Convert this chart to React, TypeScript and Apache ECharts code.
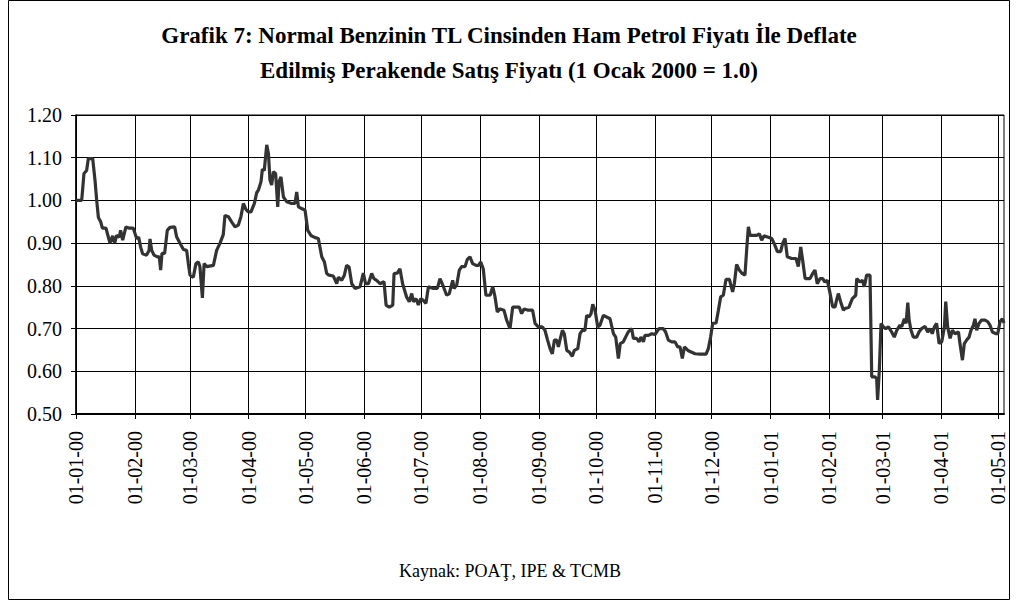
import React, { useEffect, useRef } from "react";
import * as echarts from "echarts";

// Days elapsed since 1 Jan 2000 for each reading
const dayOffsets: number[] = [
  0, 3.0, 4.2, 5.6, 6.5, 8.8, 10.0, 10.9, 11.8, 13.0, 13.9, 15.8, 17.0, 17.9, 19.3, 20.4, 21.4, 22.8, 23.5, 24.6,
  26.3, 28.1, 30.2, 32.0, 33.0, 34.1, 35.1, 37.2, 38.5, 39.0, 39.9, 41.1, 42.9, 43.9, 44.6, 45.3, 46.7, 48.1, 49.5, 52.0,
  53.0, 54.8, 56.6, 58.3, 59.2, 60.1, 61.8, 63.2, 64.5, 65.3, 66.6, 67.5, 68.9, 72.4, 74.1, 75.9, 77.6, 78.5, 80.3, 82.0,
  83.8, 85.5, 86.9, 88.2, 89.4, 90.8, 92.2, 94.0, 95.2, 96.1, 97.5, 98.2, 99.2, 100.5, 101.4, 102.2, 103.1, 104.0, 105.2, 106.3,
  107.0, 108.0, 109.3, 111.0, 113.6, 115.4, 116.3, 117.2, 118.9, 120.7, 122.1, 123.8, 126.0, 127.7, 129.5, 130.9, 132.1, 133.3, 135.6, 137.4,
  138.2, 140.0, 141.4, 142.6, 143.9, 145.3, 147.0, 149.7, 151.4, 152.6, 154.1, 155.8, 157.0, 158.4, 160.2, 162.3, 163.4, 165.1, 166.9, 167.6,
  169.3, 170.7, 172.1, 174.2, 175.6, 176.9, 177.8, 179.2, 180.4, 181.6, 183.0, 184.4, 185.7, 188.3, 190.4, 191.8, 193.6, 195.3, 196.7, 198.5,
  199.2, 200.6, 202.0, 203.2, 205.0, 206.2, 207.6, 209.0, 210.8, 212.2, 213.2, 214.6, 216.0, 218.2, 219.6, 220.8, 222.0, 223.4, 225.5, 226.9,
  228.7, 230.1, 231.9, 233.6, 234.8, 236.1, 238.4, 240.6, 241.9, 243.6, 245.7, 247.1, 248.5, 249.8, 251.0, 252.1, 253.3, 254.2, 255.0, 256.3,
  257.3, 258.6, 260.0, 261.5, 262.6, 264.4, 265.6, 266.8, 268.2, 269.1, 270.3, 271.4, 272.3, 273.5, 274.9, 276.1, 277.9, 279.6, 281.4, 283.2,
  284.4, 285.8, 286.8, 288.4, 289.6, 291.0, 292.8, 293.7, 295.4, 296.7, 297.7, 299.0, 299.8, 301.6, 303.4, 305.1, 307.2, 309.5, 310.7, 312.1,
  313.9, 315.6, 317.1, 318.3, 319.5, 320.6, 322.7, 326.2, 328.8, 332.0, 333.2, 334.4, 335.5, 337.3, 338.5, 339.7, 341.1, 342.5, 344.3, 346.0,
  346.9, 348.1, 349.5, 350.8, 352.5, 353.4, 354.3, 355.2, 357.3, 358.7, 360.1, 361.3, 362.5, 364.8, 366.6, 367.8, 369.6, 371.3, 372.4, 373.6,
  374.8, 377.1, 379.4, 380.6, 381.9, 382.9, 384.2, 386.8, 388.2, 389.4, 390.6, 392.1, 393.5, 394.5, 395.9, 397.0, 398.7, 400.0, 400.8, 401.7,
  402.9, 404.4, 405.2, 407.3, 409.1, 410.9, 411.4, 412.3, 413.1, 414.4, 415.4, 416.6, 418.4, 419.3, 421.0, 421.9, 422.4, 423.3, 424.2, 425.4,
  426.7, 428.1, 429.8, 431.2, 432.5, 434.2, 435.1, 436.5, 437.4, 438.3, 439.0, 440.0, 441.2, 443.0, 444.2, 445.6, 447.4, 448.8, 450.0, 451.2,
  452.3, 453.5, 454.8, 456.2, 457.6, 458.3, 459.3, 460.6, 461.8, 463.2, 465.0, 465.8, 467.1, 468.1, 469.3, 470.6, 471.6, 472.9, 473.7, 474.6,
  475.8, 477.2, 479.0, 480.4, 481.6, 482.9, 484.6, 485.7, 486.9, 488.1, 489.0,
];

// Deflated retail price of regular gasoline relative to crude price (1 Jan 2000 = 1.0)
const priceRatio: number[] = [
  1.0, 1.0, 1.063, 1.07, 1.098, 1.098, 1.048, 1.0, 0.96, 0.95, 0.935, 0.935, 0.915, 0.9, 0.917, 0.9, 0.918, 0.914, 0.93, 0.907,
  0.938, 0.935, 0.935, 0.91, 0.914, 0.89, 0.875, 0.872, 0.883, 0.91, 0.883, 0.872, 0.868, 0.868, 0.837, 0.876, 0.876, 0.93, 0.937, 0.938,
  0.915, 0.9, 0.885, 0.883, 0.852, 0.825, 0.82, 0.852, 0.856, 0.845, 0.772, 0.852, 0.845, 0.848, 0.883, 0.9, 0.92, 0.965, 0.962, 0.95,
  0.938, 0.942, 0.962, 0.993, 0.98, 0.973, 0.973, 0.993, 1.018, 1.024, 1.044, 1.073, 1.07, 1.13, 1.11, 1.048, 1.036, 1.067, 1.063, 0.985,
  1.044, 1.055, 1.008, 0.997, 0.993, 0.993, 1.02, 0.985, 0.981, 0.977, 0.93, 0.918, 0.913, 0.911, 0.868, 0.856, 0.829, 0.825, 0.823, 0.805,
  0.82, 0.813, 0.825, 0.848, 0.844, 0.805, 0.794, 0.798, 0.83, 0.805, 0.805, 0.829, 0.817, 0.813, 0.805, 0.81, 0.755, 0.75, 0.755, 0.829,
  0.83, 0.84, 0.805, 0.774, 0.763, 0.782, 0.763, 0.77, 0.755, 0.77, 0.766, 0.759, 0.798, 0.794, 0.794, 0.817, 0.798, 0.778, 0.782, 0.813,
  0.794, 0.802, 0.837, 0.845, 0.845, 0.862, 0.868, 0.852, 0.848, 0.848, 0.856, 0.84, 0.778, 0.778, 0.798, 0.774, 0.739, 0.746, 0.743, 0.72,
  0.7, 0.75, 0.75, 0.75, 0.735, 0.746, 0.743, 0.743, 0.712, 0.704, 0.704, 0.696, 0.673, 0.653, 0.641, 0.673, 0.673, 0.657, 0.673, 0.696,
  0.688, 0.649, 0.645, 0.635, 0.649, 0.653, 0.688, 0.696, 0.696, 0.731, 0.727, 0.735, 0.757, 0.743, 0.704, 0.708, 0.731, 0.727, 0.723, 0.688,
  0.68, 0.63, 0.665, 0.669, 0.68, 0.692, 0.7, 0.677, 0.677, 0.669, 0.68, 0.669, 0.684, 0.684, 0.688, 0.686, 0.7, 0.7, 0.692, 0.673,
  0.669, 0.669, 0.657, 0.657, 0.63, 0.657, 0.648, 0.641, 0.64, 0.64, 0.653, 0.68, 0.712, 0.713, 0.743, 0.774, 0.778, 0.815, 0.815, 0.786,
  0.805, 0.85, 0.837, 0.83, 0.825, 0.884, 0.938, 0.918, 0.918, 0.918, 0.922, 0.907, 0.917, 0.914, 0.911, 0.9, 0.88, 0.88, 0.9, 0.911,
  0.868, 0.864, 0.864, 0.845, 0.891, 0.86, 0.817, 0.817, 0.829, 0.837, 0.805, 0.817, 0.817, 0.809, 0.813, 0.79, 0.751, 0.751, 0.767, 0.782,
  0.763, 0.743, 0.747, 0.75, 0.77, 0.778, 0.817, 0.813, 0.809, 0.813, 0.798, 0.825, 0.825, 0.587, 0.587, 0.583, 0.533, 0.602, 0.712, 0.704,
  0.7, 0.704, 0.692, 0.68, 0.696, 0.708, 0.704, 0.723, 0.712, 0.761, 0.72, 0.696, 0.68, 0.68, 0.692, 0.7, 0.705, 0.692, 0.7, 0.688,
  0.704, 0.712, 0.665, 0.669, 0.704, 0.763, 0.704, 0.677, 0.696, 0.688, 0.692, 0.665, 0.626, 0.665, 0.673, 0.68, 0.696, 0.708, 0.723, 0.696,
  0.712, 0.72, 0.72, 0.716, 0.708, 0.692, 0.688, 0.688, 0.716, 0.723, 0.713,
];

// Axis tick months: [year, monthIndex]
const tickMonths: [number, number][] = [
  [2000, 0], [2000, 1], [2000, 2], [2000, 3], [2000, 4], [2000, 5], [2000, 6], [2000, 7], [2000, 8],
  [2000, 9], [2000, 10], [2000, 11], [2001, 0], [2001, 1], [2001, 2], [2001, 3], [2001, 4],
];

const yTicks = { min: 0.5, max: 1.2, interval: 0.1 };
const xEndDay = 489;

const titleText =
  "Grafik 7: Normal Benzinin TL Cinsinden Ham Petrol Fiyatı İle Deflate\nEdilmiş Perakende Satış Fiyatı (1 Ocak 2000 = 1.0)";
const sourceText = "Kaynak: POAŢ, IPE & TCMB";

const DAY = 86400000;
const FONT = "'Liberation Serif', 'Times New Roman', serif";

export default function App() {
  const ref = useRef<HTMLDivElement>(null);

  useEffect(() => {
    if (!ref.current) return;
    const chart = echarts.init(ref.current, undefined, { renderer: "svg" });
    const base = Date.UTC(2000, 0, 1);
    const data = dayOffsets.map((d, i) => [d, priceRatio[i]]);
    const ticks = tickMonths.map(([y, m]) => Math.round((Date.UTC(y, m, 1) - base) / DAY));
    const pad = (n: number) => (n < 10 ? "0" + n : "" + n);

    chart.setOption({
      animation: false,
      backgroundColor: "#fff",
      title: {
        text: titleText,
        left: "center",
        top: 13,
        textStyle: {
          fontFamily: FONT,
          fontWeight: "bold",
          fontSize: 23,
          lineHeight: 35,
          color: "#000",
        },
      },
      grid: {
        left: 76,
        right: 14,
        top: 115,
        bottom: 189,
        show: true,
        borderColor: "#000",
        borderWidth: 1,
        backgroundColor: "transparent",
      },
      xAxis: {
        type: "value",
        min: 0,
        max: xEndDay,
        axisLine: { show: true, lineStyle: { color: "#000", width: 2 } },
        axisTick: { show: true, length: 5, customValues: ticks, lineStyle: { color: "#000" } },
        axisLabel: {
          customValues: ticks,
          rotate: 90,
          margin: 17,
          color: "#000",
          fontFamily: FONT,
          fontSize: 20,
          formatter: (v: number) => {
            const dt = new Date(base + Math.round(v) * DAY);
            return pad(dt.getUTCDate()) + "-" + pad(dt.getUTCMonth() + 1) + "-" + pad(dt.getUTCFullYear() % 100);
          },
        },
        splitLine: { show: true, lineStyle: { color: "#000", width: 1 } },
      },
      yAxis: {
        type: "value",
        min: yTicks.min,
        max: yTicks.max,
        interval: yTicks.interval,
        axisLine: { show: true, lineStyle: { color: "#000", width: 1.5 } },
        axisTick: { show: true, length: 5, lineStyle: { color: "#000" } },
        axisLabel: {
          margin: 14,
          color: "#000",
          fontFamily: FONT,
          fontSize: 20,
          formatter: (v: number) => v.toFixed(2),
        },
        splitLine: { show: true, lineStyle: { color: "#000", width: 1 } },
      },
      graphic: [
        {
          type: "rect",
          silent: true,
          shape: { x: 8.5, y: 0.5, width: 1001, height: 599 },
          style: { fill: "none", stroke: "#000", lineWidth: 1 },
        },
        {
          type: "text",
          x: 510,
          y: 571,
          style: {
            text: sourceText,
            fontFamily: FONT,
            fontSize: 18,
            fill: "#000",
            textAlign: "center",
            textVerticalAlign: "middle",
          },
        },
      ],
      series: [
        {
          type: "line",
          data,
          showSymbol: false,
          symbol: "none",
          smooth: false,
          lineStyle: { color: "#333333", width: 3.2 },
        },
      ],
    });

    return () => chart.dispose();
  }, []);

  return (
    <div
      ref={ref}
      style={{ position: "absolute", left: 0, top: 0, width: 1018, height: 603 }}
    />
  );
}
